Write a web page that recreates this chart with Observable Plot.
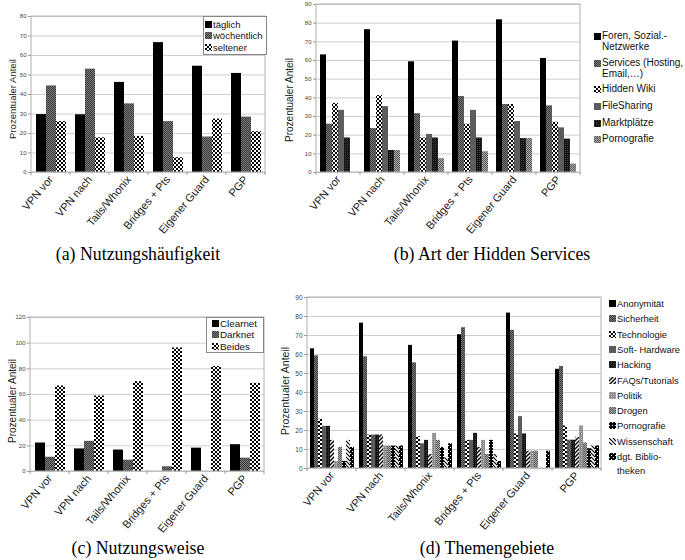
<!DOCTYPE html>
<html><head><meta charset="utf-8">
<script src="https://cdn.jsdelivr.net/npm/d3@7"></script>
<script src="https://cdn.jsdelivr.net/npm/@observablehq/plot@0.6"></script>
<style>
body{margin:0;background:#fff;}
#root{position:relative;width:685px;height:560px;overflow:hidden;font-family:"Liberation Sans",Arial,sans-serif;}
.panel{position:absolute;}
.cap{position:absolute;font-family:"Liberation Serif","Times New Roman",serif;font-size:17.8px;color:#000;white-space:nowrap;transform:translate(-50%,-50%);}
.lbox{position:absolute;border:1px solid #888;background:#fff;box-sizing:border-box;}
.lrow{position:absolute;white-space:nowrap;color:#111;display:flex;align-items:flex-start;}
.lrow svg{flex:none;margin-right:1px;}
</style>
</head><body>
<svg width="0" height="0" style="position:absolute">
<defs>
<pattern id="pDark" width="2" height="2" patternUnits="userSpaceOnUse"><rect width="2" height="2" fill="#3c3c3c"/><rect width="1" height="1" fill="#777"/><rect x="1" y="1" width="1" height="1" fill="#777"/></pattern>
<pattern id="pCheck" width="4" height="4" patternUnits="userSpaceOnUse"><rect width="4" height="4" fill="#fff"/><rect width="2" height="2" fill="#000"/><rect x="2" y="2" width="2" height="2" fill="#000"/></pattern>
<pattern id="pBlackish" width="2" height="2" patternUnits="userSpaceOnUse"><rect width="2" height="2" fill="#141414"/><rect width="1" height="1" fill="#3a3a3a"/></pattern>
<pattern id="pGrayCheck" width="2" height="2" patternUnits="userSpaceOnUse"><rect width="2" height="2" fill="#5a5a5a"/><rect width="1" height="1" fill="#a8a8a8"/><rect x="1" y="1" width="1" height="1" fill="#a8a8a8"/></pattern>
<pattern id="pLight" width="2" height="2" patternUnits="userSpaceOnUse"><rect width="2" height="2" fill="#8c8c8c"/><rect width="1" height="1" fill="#b8b8b8"/></pattern>
<pattern id="pHatchF" width="4" height="4" patternUnits="userSpaceOnUse"><rect width="4" height="4" fill="#fff"/><path d="M-1,1 l2,-2 M0,4 l4,-4 M3,5 l2,-2" stroke="#000" stroke-width="1.4"/></pattern>
<pattern id="pHatchW" width="4" height="4" patternUnits="userSpaceOnUse"><rect width="4" height="4" fill="#fff"/><path d="M-1,3 l2,2 M0,0 l4,4 M3,-1 l2,2" stroke="#000" stroke-width="1.1"/></pattern>
<pattern id="pDarkCheck" width="3" height="3" patternUnits="userSpaceOnUse"><rect width="3" height="3" fill="#000"/><rect width="1" height="1" fill="#fff"/></pattern>
<pattern id="pDgt" width="4" height="4" patternUnits="userSpaceOnUse"><rect width="4" height="4" fill="#000"/><rect width="1" height="1" fill="#fff"/><rect x="2" y="2" width="1" height="1" fill="#fff"/></pattern>
</defs>
</svg>
<div id="root"></div>
<script>
// ---------- shared categories ----------
const categories = ["VPN vor", "VPN nach", "Tails/Whonix", "Bridges + Pts", "Eigener Guard", "PGP"];

// ---------- (a) Nutzungshäufigkeit ----------
const seriesA = ["täglich", "wöchentlich", "seltener"];
const aTaeglich     = [29.7, 29.6, 46.2, 66.6, 54.5, 50.8];
const aWoechentlich = [44.4, 53.0, 35.2, 26.1, 18.2, 28.4];
const aSeltener     = [26.1, 17.8, 18.5, 7.6, 27.4, 20.9];
const fillsA = ["#000", "url(#pDark)", "url(#pCheck)"];

// ---------- (b) Art der Hidden Services ----------
const seriesB = ["Foren, Sozial.-Netzwerke", "Services (Hosting, Email,…)", "Hidden Wiki", "FileSharing", "Marktplätze", "Pornografie"];
const legendB = [["Foren, Sozial.-", "Netzwerke"], ["Services (Hosting,", "Email,…)"], ["Hidden Wiki"], ["FileSharing"], ["Marktplätze"], ["Pornografie"]];
const bForen     = [63.0, 76.5, 59.3, 70.4, 81.8, 61.1];
const bServices  = [25.9, 23.5, 31.5, 40.7, 36.4, 35.7];
const bHiddenWiki= [37.0, 41.2, 18.5, 25.9, 36.4, 26.9];
const bFileShare = [33.3, 35.3, 20.4, 33.3, 27.3, 23.9];
const bMarkt     = [18.5, 11.8, 18.5, 18.5, 18.2, 17.9];
const bPorno     = [0, 11.8, 7.4, 11.1, 18.2, 4.5];
const fillsB = ["#000", "url(#pDark)", "url(#pCheck)", "#5c5c5c", "url(#pBlackish)", "url(#pGrayCheck)"];

// ---------- (c) Nutzungsweise ----------
const seriesC = ["Clearnet", "Darknet", "Beides"];
const cClearnet = [22.2, 17.6, 16.7, 0, 18.2, 20.9];
const cDarknet  = [11.1, 23.5, 8.8, 3.7, 0, 10.4];
const cBeides   = [66.7, 58.8, 70.0, 96.3, 81.8, 68.7];
const fillsC = ["#000", "url(#pDark)", "url(#pCheck)"];

// ---------- (d) Themengebiete ----------
const seriesD = ["Anonymität", "Sicherheit", "Technologie", "Soft- Hardware", "Hacking", "FAQs/Tutorials", "Politik", "Drogen", "Pornografie", "Wissenschaft", "dgt. Bibliotheken"];
const legendD = [["Anonymität"], ["Sicherheit"], ["Technologie"], ["Soft- Hardware"], ["Hacking"], ["FAQs/Tutorials"], ["Politik"], ["Drogen"], ["Pornografie"], ["Wissenschaft"], ["dgt. Biblio-", "theken"]];
const dAnonym   = [63.0, 76.5, 64.8, 70.4, 81.8, 52.2];
const dSicher   = [59.3, 58.8, 55.6, 74.1, 72.7, 53.7];
const dTechno   = [25.9, 17.6, 16.7, 14.8, 18.2, 22.4];
const dSoftHard = [22.2, 17.6, 13.0, 14.8, 27.3, 14.9];
const dHacking  = [22.2, 17.6, 14.8, 18.5, 18.2, 14.9];
const dFAQ      = [14.8, 17.6, 7.4, 11.1, 9.1, 16.4];
const dPolitik  = [3.7, 11.8, 18.5, 14.8, 9.1, 22.4];
const dDrogen   = [11.1, 11.8, 14.8, 7.4, 9.1, 13.4];
const dPorno    = [3.7, 11.8, 11.1, 14.8, 0, 10.4];
const dWissen   = [14.8, 11.8, 5.6, 7.4, 0, 11.9];
const dDgt      = [11.1, 11.8, 13.0, 3.7, 9.1, 11.9];
const fillsD = ["#000", "url(#pDark)", "url(#pCheck)", "#5c5c5c", "url(#pBlackish)", "url(#pHatchF)", "url(#pLight)", "url(#pGrayCheck)", "url(#pDarkCheck)", "url(#pHatchW)", "url(#pDgt)"];

// ---------- tidy rows ----------
function rowsOf(series, arrays) {
  const out = [];
  categories.forEach((c, i) => series.forEach((s, j) => out.push({category: c, series: s, value: arrays[j][i]})));
  return out;
}

const root = document.getElementById("root");

function panel(o) {
  const ticks = d3.range(0, o.yMax + 1e-9, o.yStep);
  const plot = Plot.plot({
    width: o.width, height: o.height,
    marginLeft: o.mL, marginRight: o.mR, marginTop: o.mT, marginBottom: o.mB,
    style: {fontFamily: "'Liberation Sans', Arial, sans-serif", background: "transparent", overflow: "visible", color: "#222"},
    fx: {domain: categories, padding: 0, label: null},
    x: {domain: o.series, paddingInner: 0, paddingOuter: o.padOuter, axis: null},
    y: {domain: [0, o.yMax], label: null},
    color: {type: "ordinal", domain: o.series, range: o.fills},
    marks: [
      Plot.gridY(ticks, {stroke: "#cfcfcf", strokeOpacity: 1, strokeWidth: 1}),
      Plot.barY(o.rows, {fx: "category", x: "series", y: "value", fill: "series", inset: 0}),
      Plot.axisY(ticks, {tickSize: 3, tickPadding: 2, fontSize: o.yFont, stroke: "#999", fill: "#444", label: null}),
      Plot.axisFx({anchor: "bottom", tickRotate: -50, tickSize: 0, tickPadding: 5, fontSize: o.xFont, fill: "#1a1a1a", label: null})
    ]
  });
  const svg = d3.select(plot.tagName.toLowerCase() === "svg" ? plot : plot.querySelector("svg"));
  const fxS = plot.scale("fx"), yS = plot.scale("y");
  const y0 = yS.apply(0), y1 = yS.apply(o.yMax);
  const xs = categories.map(c => fxS.apply(c));
  const xEnd = fxS.apply(categories[categories.length - 1]) + fxS.bandwidth;
  const deco = svg.append("g");
  deco.append("rect").attr("x", xs[0]).attr("y", y1).attr("width", xEnd - xs[0]).attr("height", y0 - y1)
    .attr("fill", "none").attr("stroke", "#b0b0b0").attr("stroke-width", 1);
  xs.concat([xEnd]).forEach(x => deco.append("line").attr("x1", x).attr("x2", x).attr("y1", y0).attr("y2", y0 + 3).attr("stroke", "#999"));
  deco.append("text").text("Prozentualer Anteil")
    .attr("transform", `translate(${o.labelX},${o.labelY}) rotate(-90)`)
    .attr("text-anchor", "middle").attr("dominant-baseline", "middle")
    .attr("font-size", o.labelFont).attr("fill", "#222");
  plot.classList.add("panel");
  plot.style.left = o.left + "px";
  plot.style.top = o.top + "px";
  root.appendChild(plot);
}

function swatch(fill, size, off) {
  return `<svg width="${size}" height="${size}" style="margin-top:${off}px"><rect width="${size}" height="${size}" fill="${fill}"/></svg>`;
}

function legend(items, fills, opt) {
  if (opt.box) {
    const b = document.createElement("div");
    b.className = "lbox";
    Object.assign(b.style, {left: opt.box[0] + "px", top: opt.box[1] + "px", width: opt.box[2] + "px", height: opt.box[3] + "px"});
    root.appendChild(b);
  }
  items.forEach((lines, i) => {
    const r = document.createElement("div");
    r.className = "lrow";
    Object.assign(r.style, {left: opt.x + "px", top: (opt.y0 + opt.step * i + (opt.extra ? opt.extra[i] : 0)) + "px", fontSize: opt.font + "px", lineHeight: opt.lh + "px"});
    r.innerHTML = swatch(fills[i], opt.sw, opt.swOff) + `<span>${lines.join("<br>")}</span>`;
    root.appendChild(r);
  });
}

// (a)
panel({rows: rowsOf(seriesA, [aTaeglich, aWoechentlich, aSeltener]), series: seriesA, fills: fillsA,
  yMax: 80, yStep: 10, width: 280, height: 245, left: 0, top: 0, mL: 28, mR: 13, mT: 16, mB: 73,
  padOuter: 0.45, yFont: 6, xFont: 11, labelX: 13, labelY: 99, labelFont: 9.5});
legend(seriesA.map(s => [s]), fillsA, {box: [203, 16, 64, 39], x: 205, y0: 18.5, step: 11.8, font: 9.5, lh: 11, sw: 7, swOff: 2});

// (b)
panel({rows: rowsOf(seriesB, [bForen, bServices, bHiddenWiki, bFileShare, bMarkt, bPorno]), series: seriesB, fills: fillsB,
  yMax: 90, yStep: 10, width: 405, height: 245, left: 280, top: 0, mL: 33, mR: 103, mT: 4, mB: 73,
  padOuter: 0.4, yFont: 6, xFont: 11, labelX: 10, labelY: 100, labelFont: 10});
legend(legendB, fillsB, {x: 594, y0: 31, step: 0, extra: [0, 27, 53, 70, 87, 103], font: 10, lh: 10.5, sw: 7, swOff: 2});

// (c)
panel({rows: rowsOf(seriesC, [cClearnet, cDarknet, cBeides]), series: seriesC, fills: fillsC,
  yMax: 120, yStep: 20, width: 280, height: 255, left: 0, top: 285, mL: 29, mR: 16, mT: 32, mB: 69,
  padOuter: 0.45, yFont: 6, xFont: 11, labelX: 13, labelY: 116, labelFont: 10});
legend(seriesC.map(s => [s]), fillsC, {box: [206, 317, 58, 36], x: 212, y0: 317.5, step: 11.8, font: 9.8, lh: 11, sw: 7, swOff: 2});

// (d)
panel({rows: rowsOf(seriesD, [dAnonym, dSicher, dTechno, dSoftHard, dHacking, dFAQ, dPolitik, dDrogen, dPorno, dWissen, dDgt]), series: seriesD, fills: fillsD,
  yMax: 90, yStep: 10, width: 405, height: 255, left: 280, top: 285, mL: 25, mR: 83, mT: 12, mB: 72,
  padOuter: 0.42, yFont: 6.5, xFont: 11, labelX: 6, labelY: 106, labelFont: 10.5});
legend(legendD, fillsD, {x: 609, y0: 297, step: 15.3, font: 9.4, lh: 13.5, sw: 7, swOff: 3});

// captions
[["(a) Nutzungshäufigkeit", 138, 254], ["(b) Art der Hidden Services", 492, 254], ["(c) Nutzungsweise", 138, 548], ["(d) Themengebiete", 487, 548]]
  .forEach(([t, x, y]) => {
    const d = document.createElement("div");
    d.className = "cap"; d.textContent = t;
    d.style.left = x + "px"; d.style.top = y + "px";
    root.appendChild(d);
  });
</script>
</body></html>
